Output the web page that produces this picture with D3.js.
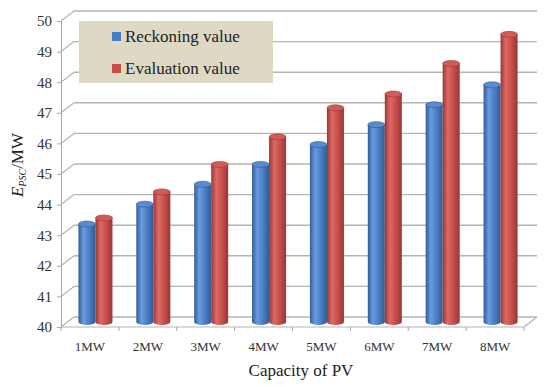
<!DOCTYPE html>
<html>
<head>
<meta charset="utf-8">
<script src="https://cdn.jsdelivr.net/npm/d3@7/dist/d3.min.js"></script>
<style>
  html, body { margin: 0; padding: 0; background: #fff; }
  svg { display: block; font-family: "Liberation Serif", "DejaVu Serif", serif; }
</style>
</head>
<body>
<div id="main"></div>
<script>
// chart data
const categories = ['1MW', '2MW', '3MW', '4MW', '5MW', '6MW', '7MW', '8MW']
const seriesNames = ['Reckoning value', 'Evaluation value']
const reckoning = [43.2, 43.85, 44.5, 45.15, 45.8, 46.45, 47.1, 47.75]
const evaluation = [43.4, 44.25, 45.15, 46.05, 47.0, 47.45, 48.45, 49.4]
const yTicks = [40, 41, 42, 43, 44, 45, 46, 47, 48, 49, 50]

const W = 550, H = 387
// 3d depth offset of the back wall
const DX = 13, DY = -10

const svg = d3.select('#main').append('svg').attr('width', W).attr('height', H)

const x = d3.scaleBand().domain(categories).range([61, 524])
const y = d3.scaleLinear().domain([40, 50]).range([327, 21])
const xs = d3.scaleBand().domain(seriesNames).range([0, 34])

const colors = {
  'Reckoning value': { dark: '#2f5b96', light: '#6b9be0', base: '#4a7dc4', top: '#5a8bd0' },
  'Evaluation value': { dark: '#9a3533', light: '#dc6a66', base: '#c64d4a', top: '#d05c59' }
}

const defs = svg.append('defs')
seriesNames.forEach(function (s, i) {
  const c = colors[s]
  const g = defs.append('linearGradient').attr('id', 'grad' + i).attr('x1', '0').attr('x2', '1').attr('y1', '0').attr('y2', '0')
  g.append('stop').attr('offset', '0%').attr('stop-color', c.dark)
  g.append('stop').attr('offset', '30%').attr('stop-color', c.light)
  g.append('stop').attr('offset', '65%').attr('stop-color', c.base)
  g.append('stop').attr('offset', '100%').attr('stop-color', c.dark)
})

const grid = svg.append('g').attr('class', 'grid')
const x0 = x.range()[0], x1 = x.range()[1]

// back wall gridlines
grid.selectAll('line.h').data(yTicks).join('line')
  .attr('x1', x0 + DX).attr('x2', x1 + DX)
  .attr('y1', d => y(d) + DY).attr('y2', d => y(d) + DY)
  .attr('stroke', '#b4b4b4').attr('stroke-width', 1.4)
// side wall diagonals
grid.selectAll('line.d').data(yTicks).join('line')
  .attr('x1', x0).attr('x2', x0 + DX)
  .attr('y1', d => y(d)).attr('y2', d => y(d) + DY)
  .attr('stroke', '#b4b4b4').attr('stroke-width', 1.2)
// floor front edge and right diagonal
grid.append('line').attr('x1', x0).attr('x2', x1).attr('y1', y(40)).attr('y2', y(40))
  .attr('stroke', '#b4b4b4').attr('stroke-width', 1.2)
grid.append('line').attr('x1', x1).attr('x2', x1 + DX).attr('y1', y(40)).attr('y2', y(40) + DY)
  .attr('stroke', '#b4b4b4').attr('stroke-width', 1.2)

// y axis
const yAxis = svg.append('g').attr('transform', 'translate(' + x0 + ',0)')
  .call(d3.axisLeft(y).tickValues(yTicks).tickSize(4).tickPadding(5).tickFormat(d3.format('d')))
yAxis.select('.domain').attr('stroke', '#a8a8a8')
yAxis.selectAll('.tick line').attr('stroke', '#a8a8a8')
yAxis.selectAll('.tick text').attr('font-size', 15).attr('fill', '#333').style('font-family', 'Liberation Serif')

// x axis
const xAxis = svg.append('g').attr('transform', 'translate(0,' + y(40) + ')')
  .call(d3.axisBottom(x).tickSize(0).tickPadding(15))
xAxis.select('.domain').remove()
xAxis.selectAll('.tick text').attr('font-size', 13).attr('fill', '#333').style('font-family', 'Liberation Serif')
xAxis.selectAll('line.sep').data(d3.range(categories.length + 1)).join('line')
  .attr('class', 'sep')
  .attr('x1', i => x0 + i * x.step()).attr('x2', i => x0 + i * x.step())
  .attr('y1', 0).attr('y2', 4).attr('stroke', '#a8a8a8')

// cylinders
const RY = 3
function cyl(xl, w, yt, yb) {
  return 'M' + xl + ',' + yt + 'L' + xl + ',' + yb +
    'A' + (w / 2) + ',' + RY + ' 0 0 0 ' + (xl + w) + ',' + yb +
    'L' + (xl + w) + ',' + yt + 'Z'
}
const bars = svg.append('g').attr('transform', 'translate(' + (DX / 2 - 1) + ',' + (DY / 2) + ')')
const rows = []
categories.forEach(function (c, i) {
  rows.push({ cat: c, s: 0, name: seriesNames[0], v: reckoning[i] })
  rows.push({ cat: c, s: 1, name: seriesNames[1], v: evaluation[i] })
})
const barX = d => x(d.cat) + (x.bandwidth() - xs.range()[1]) / 2 + xs(d.name)
const bar = bars.selectAll('g.bar').data(rows).join('g').attr('class', 'bar')
bar.append('path')
  .attr('d', d => cyl(barX(d), xs.bandwidth(), y(d.v), y(40)))
  .attr('fill', d => 'url(#grad' + d.s + ')')
bar.append('ellipse')
  .attr('cx', d => barX(d) + xs.bandwidth() / 2)
  .attr('cy', d => y(d.v))
  .attr('rx', xs.bandwidth() / 2).attr('ry', RY)
  .attr('fill', d => colors[d.name].top)
  .attr('stroke', d => colors[d.name].dark).attr('stroke-width', 0.6)

// legend
const legend = svg.append('g').attr('transform', 'translate(79,21)')
legend.append('rect').attr('width', 194).attr('height', 62).attr('fill', '#ddd9c4')
const li = legend.selectAll('g.item').data(seriesNames).join('g').attr('class', 'item')
  .attr('transform', (d, i) => 'translate(33,' + (11 + i * 32) + ')')
li.append('rect').attr('width', 9).attr('height', 9).attr('fill', d => colors[d].base)
li.append('text').attr('x', 13).attr('y', 9.5).attr('font-size', 17).attr('fill', '#222').text(d => d)

// axis titles
svg.append('text').attr('x', 301).attr('y', 376).attr('text-anchor', 'middle')
  .attr('font-size', 17).attr('fill', '#222').text('Capacity of PV')
const yt = svg.append('text').attr('transform', 'translate(23,165) rotate(-90)')
  .attr('text-anchor', 'middle').attr('font-size', 17).attr('fill', '#222')
yt.append('tspan').attr('font-style', 'italic').text('E')
yt.append('tspan').attr('font-style', 'italic').attr('font-size', 10).attr('dy', 3).text('PSC')
yt.append('tspan').attr('dy', -3).text('/MW')
</script>
</body>
</html>
